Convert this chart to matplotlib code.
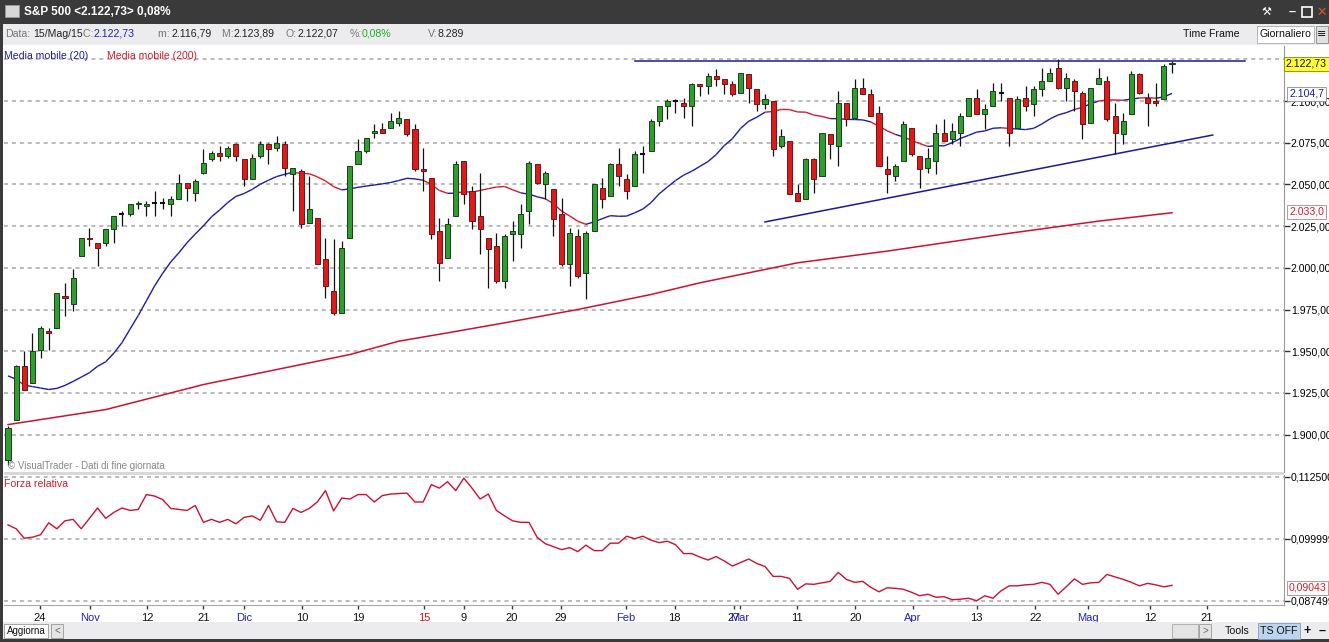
import matplotlib
matplotlib.use("Agg")
import matplotlib.pyplot as plt
import numpy as np
from matplotlib.collections import LineCollection
from matplotlib.patches import Rectangle

W, H = 1329, 642

# ---------------- data (S&P 500 daily, 20 Oct 2014 - 15 May 2015) ----------------
opens = [1885,1909,1941,1931,1951,1962,1964,1983,1978,2007,
 2018,2015,2015,2023,2032,2032,2038,2037,2039,2039,2038,2041,2051,2045,2057,2065,2069,2067,2074,
 2065,2053,2067,2074,2072,2074,2056,2058,2027,2030,2005,1986,1973,2018,2062,2070,2081,2083,2084,2087,2089,2083,
 2059,2054,2022,2006,2031,2064,2046,2031,2018,2013,1992,2020,2020,2034,2062,2050,2047,2032,2002,2019,
 1997,2022,2048,2043,2062,2053,2049,2068,2070,2088,2097,2100,2099,2097,2110,2109,2115,2113,2110,
 2105,2116,2107,2098,2100,2073,2076,2045,2041,2065,2055,2080,2073,2099,2090,2108,2104,2093,2059,2055,2064,2084,
 2067,2060,2064,2081,2077,2081,2091,2102,2092,2097,2105,2102,2084,2102,2098,2107,2112,2120,2108,2112,2105,
 2087,2110,2112,2091,2080,2092,2116,2102,2100,2101,2122]
highs = [1905,1942,1950,1961,1965,1964,1985,1991,1999,2018,
 2024,2015,2023,2031,2034,2038,2040,2040,2046,2042,2043,2056,2051,2053,2071,2070,2073,2073,2075,
 2065,2068,2076,2075,2079,2076,2060,2059,2055,2030,2018,2017,2016,2061,2077,2078,2086,2087,2093,2094,2089,2086,
 2072,2054,2030,2030,2064,2064,2049,2057,2018,2021,2020,2028,2038,2064,2062,2058,2047,2042,2024,2023,
 2022,2050,2054,2063,2072,2056,2070,2073,2089,2097,2101,2101,2102,2111,2110,2117,2119,2113,2112,
 2117,2116,2107,2104,2100,2083,2076,2050,2066,2066,2081,2080,2106,2099,2113,2114,2107,2097,2067,2062,2088,2084,
 2067,2072,2086,2089,2087,2093,2102,2107,2098,2111,2111,2102,2103,2109,2109,2120,2120,2125,2117,2113,2106,
 2108,2120,2115,2099,2093,2118,2117,2105,2111,2122,2124]
lows = [1882,1909,1927,1931,1946,1951,1964,1971,1974,2007,
 2013,2001,2013,2015,2025,2031,2035,2031,2031,2035,2031,2041,2040,2040,2056,2064,2064,2066,2064,
 2049,2053,2066,2062,2070,2055,2034,2024,2027,2002,1982,1972,1973,2018,2062,2069,2078,2081,2084,2085,2079,2058,
 2046,2017,1992,2006,2031,2038,2023,2008,1988,1991,1988,2004,2012,2026,2050,2041,2019,2001,1989,1994,
 1981,2022,2036,2043,2049,2041,2049,2057,2070,2085,2089,2093,2090,2085,2103,2104,2109,2104,2103,
 2105,2099,2094,2095,2067,2072,2044,2040,2041,2045,2055,2065,2061,2085,2090,2104,2091,2061,2045,2052,2064,2067,
 2048,2057,2056,2076,2074,2073,2091,2092,2083,2097,2100,2073,2084,2094,2091,2103,2112,2107,2100,2094,2077,
 2087,2110,2088,2068,2074,2092,2104,2085,2097,2101,2117]
closes = [1904,1941,1927,1950,1964,1961,1985,1982,1994,2018,
 2017,2012,2023,2031,2032,2038,2039,2038,2039,2039,2041,2051,2048,2052,2063,2069,2067,2072,2067,
 2053,2066,2074,2071,2075,2060,2060,2026,2035,2002,1989,1973,2012,2061,2070,2078,2082,2081,2088,2090,2080,2059,
 2058,2020,2003,2026,2062,2044,2028,2023,2011,1992,2019,2022,2032,2063,2051,2057,2029,2002,2021,1995,
 2021,2050,2041,2062,2055,2046,2068,2068,2088,2097,2100,2100,2097,2110,2109,2115,2113,2110,2104,
 2117,2108,2098,2101,2071,2079,2044,2040,2065,2053,2081,2074,2099,2089,2108,2104,2091,2061,2056,2061,2086,2068,
 2059,2066,2081,2076,2082,2091,2102,2092,2095,2106,2105,2081,2101,2097,2107,2112,2117,2108,2114,2106,2086,
 2108,2114,2089,2081,2088,2116,2105,2099,2099,2121,2123]
# closes of the 19 sessions before the first candle (for the 20-day average)
prior_closes = [1982,1998,1966,1982,1978,1972,1946,1946,1967,1964,1935,1969,1928,1906,1874,1877,1862,1862,1886]

ma200_idx = [0,12,24,36,42,48,54,61,70,79,85,97,108,122,134,143]
ma200_val = [1906,1915,1930,1942,1948,1956,1961,1967,1975,1984,1991,2003,2010,2020,2028,2033]

rs = [0.1028,0.1020,0.1001,0.1003,0.1008,0.1032,0.1020,0.1036,0.1039,0.1020,
 0.1041,0.1062,0.1041,0.1053,0.1062,0.1057,0.1059,0.1089,0.1086,0.1079,
 0.1061,0.1059,0.1057,0.1067,0.1033,0.1039,0.1033,0.1039,0.1030,0.1043,
 0.1046,0.1037,0.1067,0.1034,0.1033,0.1061,0.1053,0.1061,0.1074,0.1097,
 0.1056,0.1082,0.1080,0.1089,0.1089,0.1074,0.1087,0.1090,0.1091,0.1092,
 0.1074,0.1074,0.1109,0.1102,0.1115,0.1097,0.1122,0.1102,0.1080,0.1090,
 0.1057,0.1046,0.1036,0.1033,0.1033,0.1003,0.0990,0.0984,0.0978,0.0982,
 0.0974,0.0987,0.0976,0.0976,0.0991,0.0991,0.1005,0.1000,0.1005,0.0997,
 0.0992,0.0995,0.0988,0.0970,0.0970,0.0963,0.0957,0.0964,0.0955,0.0945,
 0.0952,0.0959,0.0950,0.0944,0.0924,0.0924,0.0920,0.0898,0.0909,0.0908,
 0.0911,0.0914,0.0932,0.0918,0.0912,0.0914,0.0902,0.0893,0.0901,0.0900,
 0.0898,0.0892,0.0885,0.0888,0.0882,0.0883,0.0877,0.0878,0.0880,0.0875,
 0.0885,0.0880,0.0895,0.0905,0.0905,0.0907,0.0908,0.0912,0.0908,0.0888,
 0.0903,0.0919,0.0908,0.0911,0.0912,0.0928,0.0923,0.0918,0.0912,0.0905,
 0.0910,0.0907,0.0903,0.0906]

resistance = [2123.9, 2123.9]
resistance_idx = [77, 152]
support = [2027.5, 2079.6]
support_idx = [93, 148]

xlabels = ["24","Nov","12","21","Dic","10","19","15","9","20","29","Feb","18","27","Mar","11","20","Apr","13","22","Mag","12","21"]
xlabel_pos = [3.9,10.1,17.1,24.0,29.0,36.1,43.0,51.1,56.0,61.9,67.9,75.9,81.9,89.2,89.9,96.9,104.1,111.2,119.0,126.2,132.7,140.3,147.3]
xlabel_kind = ["d","m","d","d","m","d","d","y","d","d","d","m","d","d","m","d","d","m","d","d","m","d","d"]

price_ticks = [1900,1925,1950,1975,2000,2025,2050,2075,2100,2125]
rs_ticks = [0.1125,0.099999,0.087499]
rs_ticklabels = ["0,112500","0,099999","0,087499"]

# ---------------- figure ----------------
plt.rcParams['font.family'] = ['Liberation Sans', 'DejaVu Sans']
fig = plt.figure(figsize=(W/100, H/100), dpi=100)
fig.patch.set_facecolor("white")
FS = 7.6

def fx(x): return x / W
def fy(y): return 1 - y / H

def rect(x0, y0, x1, y1, fc, ec="none", lw=0, z=0):
    fig.patches.append(Rectangle((fx(x0), fy(y1)), (x1-x0)/W, (y1-y0)/H,
                                 transform=fig.transFigure, fc=fc, ec=ec, lw=lw, zorder=z))

# window chrome
rect(0, 0, W, 24, "#3a3a3a")
rect(0, 24, W, 45, "#ececee")
rect(0, 622, W, 642, "#3a3a3a")
rect(0, 622, W, 639, "#ececee")
rect(0, 24, 3, 642, "#3a3a3a")
rect(5, 5, 19, 17, "#d8d8d8", ec="#999999", lw=0.6)
fig.text(fx(24), fy(12), "S&P 500 <2.122,73> 0,08%", color="white", fontsize=8.5,
         fontweight="bold", va="center", ha="left")
fig.text(fx(1266), fy(12), "⚒", color="white", fontsize=8, va="center", ha="center",
         family=['DejaVu Sans'])
fig.text(fx(1292), fy(12), "–", color="white", fontsize=9, fontweight="bold", va="center", ha="center")
rect(1302, 7, 1312, 17, "none", ec="white", lw=1.2)
fig.text(fx(1322), fy(12), "✕", color="#e05030", fontsize=9, fontweight="bold", va="center", ha="center",
         family=['DejaVu Sans'])

info = [(5, "Data:", "#777777"), (33, "15/Mag/15", "#222222"), (83, "C: ", "#777777"),
        (94, "2.122,73", "#2222bb"), (158, "m: ", "#777777"), (171, "2.116,79", "#222222"),
        (222, "M: ", "#777777"), (234, "2.123,89", "#222222"), (286, "O:", "#777777"),
        (297, "2.122,07", "#222222"), (350, "%:", "#777777"), (362, "0,08%", "#22aa22"),
        (428, "V:", "#777777"), (438, "8.289", "#222222")]
for x, t, c in info:
    fig.text(fx(x), fy(34), t, color=c, fontsize=FS, va="center", ha="left")
fig.text(fx(1211), fy(34), "Time Frame", color="#111111", fontsize=FS, va="center", ha="center")
rect(1257, 26, 1314, 43, "white", ec="#aaaaaa", lw=0.6, z=1)
fig.text(fx(1260), fy(34), "Giornaliero", color="#111111", fontsize=FS, va="center", ha="left", zorder=2)
rect(1316, 26, 1328, 43, "#e0e0e0", ec="#888888", lw=0.6, z=1)
fig.text(fx(1322), fy(34), "≡", color="#111111", fontsize=8, va="center", ha="center", zorder=2,
         family=['DejaVu Sans'])

# ---------------- main price axes ----------------
X0, X1 = 4, 1284
ax = fig.add_axes([fx(X0), fy(472), (X1-X0)/W, (472-46)/H])
xl = ((X0-8)/8.14, (X1-8)/8.14)
ax.set_xlim(*xl)
ax.set_ylim(2100-(472-101)/1.668, 2100+(101-46)/1.668)
for v in price_ticks:
    ax.axhline(v, color="#b4b4b4", lw=1.3, ls=(0, (2.2, 2.2)), zorder=0)

n = len(closes)
idx = np.arange(n)
allc = np.array(prior_closes + closes, dtype=float)
ma20 = np.array([allc[i:i+20].mean() for i in range(n)])
cl = np.array(closes, dtype=float)

ax.plot(ma200_idx, ma200_val, color="#cc1133", lw=1.1, zorder=2)
segs = [[(idx[i], ma20[i]), (idx[i+1], ma20[i+1])] for i in range(n-1)]
cols = ["#d01c2c" if cl[i+1] < ma20[i+1] else "#1c1ca8" for i in range(n-1)]
ax.add_collection(LineCollection(segs, colors=cols, lw=1.0, zorder=2))

ax.plot(resistance_idx, resistance, color="#1a1a9a", lw=1.1, zorder=2)
ax.plot(support_idx, support, color="#1a1a9a", lw=1.1, zorder=2)

o = np.array(opens, float); h = np.array(highs, float); l = np.array(lows, float)
ax.vlines(idx, l, h, color="#111111", lw=0.9, zorder=3)
bw = 0.62
for i in range(n):
    d = cl[i] - o[i]
    if abs(d) < 0.9:
        ax.hlines(cl[i], i-bw/2, i+bw/2, color="#111111", lw=1.5, zorder=4)
        continue
    up = d > 0
    ax.add_patch(Rectangle((i-bw/2, min(o[i], cl[i])), bw, abs(d),
                           fc="#2e9e2e" if up else "#dc1c1c",
                           ec="#1d3d1d" if up else "#6e1616", lw=0.7, zorder=4))

ax.set_xticks([])
ax.yaxis.tick_right()
ax.set_yticks(price_ticks[:-1])
ax.set_yticklabels([f"{v:,.2f}".replace(",", "X").replace(".", ",").replace("X", ".") for v in price_ticks[:-1]])
ax.tick_params(axis="y", length=4, width=1, color="#333333", labelsize=FS, pad=1)
for s in ["top", "left", "bottom"]:
    ax.spines[s].set_visible(False)
ax.spines["right"].set_color("#999999")

fig.text(fx(4), fy(56), "Media mobile (20)", color="#1c1ca8", fontsize=FS, va="center", ha="left")
fig.text(fx(107), fy(56), "Media mobile (200)", color="#d01c2c", fontsize=FS, va="center", ha="left")
fig.text(fx(8), fy(466), "© VisualTrader - Dati di fine giornata", color="#888888", fontsize=7, va="center", ha="left")

fig.text(fx(1286), fy(64), "2.122,73", color="#111111", fontsize=FS, va="center", ha="left",
         bbox=dict(fc="#ffff33", ec="#888800", lw=0.6, pad=1.2), zorder=10)
fig.text(fx(1289), fy(94), "2.104,7", color="#1c1ca8", fontsize=FS, va="center", ha="left",
         bbox=dict(fc="white", ec="#8888aa", lw=0.6, pad=1.2), zorder=10)
fig.text(fx(1289), fy(212), "2.033,0", color="#d01c2c", fontsize=FS, va="center", ha="left",
         bbox=dict(fc="white", ec="#aa8888", lw=0.6, pad=1.2), zorder=10)

rect(X0, 472, X1, 475, "#d8d8d8")

# ---------------- relative strength axes ----------------
ax2 = fig.add_axes([fx(X0), fy(605), (X1-X0)/W, (605-475)/H])
ax2.set_xlim(*xl)
ax2.set_ylim(0.1125-(605-476.7)*0.0002016, 0.1125+(476.7-475)*0.0002016)
for v in rs_ticks:
    ax2.axhline(v, color="#b4b4b4", lw=1.3, ls=(0, (2.2, 2.2)), zorder=0)
ax2.plot(np.arange(len(rs)), rs, color="#cc1133", lw=1.0, zorder=2)
ax2.yaxis.tick_right()
ax2.set_yticks(rs_ticks)
ax2.set_yticklabels(rs_ticklabels)
ax2.tick_params(axis="y", length=4, width=1, color="#333333", labelsize=FS, pad=1)
ax2.set_xticks(xlabel_pos)
ax2.set_xticklabels(xlabels)
ax2.tick_params(axis="x", length=3, width=1, color="#333366", labelsize=FS+0.4, pad=3)
kc = {"d": "#111111", "m": "#2222bb", "y": "#dd1111"}
for t, k in zip(ax2.get_xticklabels(), xlabel_kind):
    t.set_color(kc[k])
for s in ["top", "left"]:
    ax2.spines[s].set_visible(False)
ax2.spines["right"].set_color("#999999")
ax2.spines["bottom"].set_color("#aaaaaa")
fig.text(fx(4), fy(484), "Forza relativa", color="#d01c2c", fontsize=FS, va="center", ha="left")
fig.text(fx(1289), fy(588), "0,09043", color="#d01c2c", fontsize=FS, va="center", ha="left",
         bbox=dict(fc="white", ec="#aa8888", lw=0.6, pad=1.2), zorder=10)

# bottom bar
rect(4, 624, 48, 638, "white", ec="#999999", lw=0.6, z=1)
fig.text(fx(7), fy(631), "Aggiorna", color="#111111", fontsize=7, va="center", ha="left", zorder=2)
rect(51, 624, 63, 638, "#e4e4e4", ec="#999999", lw=0.6, z=1)
fig.text(fx(57), fy(631), "<", color="#666666", fontsize=7, va="center", ha="center", zorder=2)
rect(1172, 624, 1198, 638, "#e4e4e4", ec="#aaaaaa", lw=0.6, z=1)
rect(1199, 624, 1211, 638, "#e4e4e4", ec="#999999", lw=0.6, z=1)
fig.text(fx(1205), fy(631), ">", color="#666666", fontsize=7, va="center", ha="center", zorder=2)
fig.text(fx(1237), fy(631), "Tools", color="#111111", fontsize=FS, va="center", ha="center", zorder=2)
rect(1258, 623, 1300, 639, "#bcd4ee", ec="#8899bb", lw=0.6, z=1)
fig.text(fx(1279), fy(631), "TS OFF", color="#111111", fontsize=FS, va="center", ha="center", zorder=2)
fig.text(fx(1307), fy(631), "+", color="#111111", fontsize=9, fontweight="bold", va="center", ha="center", zorder=2)
fig.text(fx(1322), fy(631), "–", color="#111111", fontsize=9, fontweight="bold", va="center", ha="center", zorder=2)

fig.savefig("out.png", dpi=100, facecolor=fig.get_facecolor())
